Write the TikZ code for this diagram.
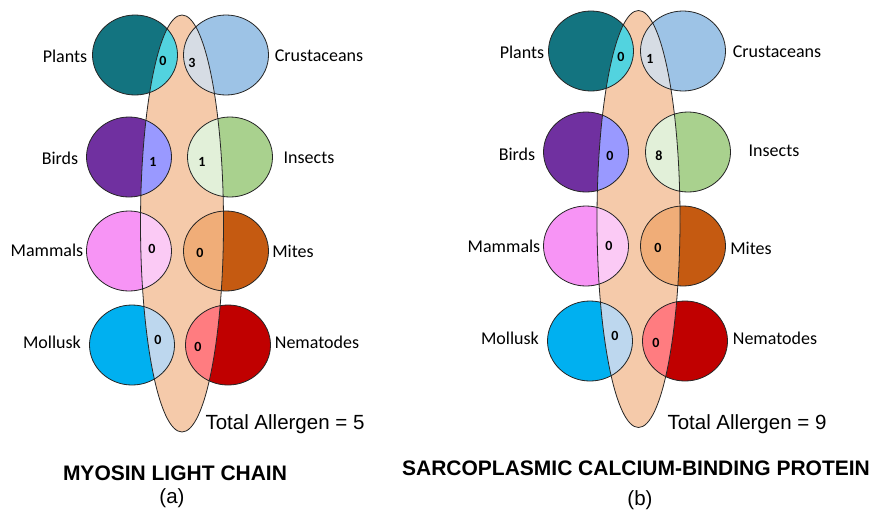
\documentclass[tikz,border=0pt]{standalone}
\usepackage{fontspec}
\setmainfont{Carlito}
\newfontfamily\arialf{Liberation Sans}
\definecolor{plantD}{HTML}{137480}\definecolor{plantL}{HTML}{52D3DF}
\definecolor{crusD}{HTML}{9DC3E6}\definecolor{crusL}{HTML}{D6DCE4}
\definecolor{birdD}{HTML}{7030A0}\definecolor{birdL}{HTML}{9999FF}
\definecolor{insD}{HTML}{A9D18E}\definecolor{insL}{HTML}{E2F0D9}
\definecolor{mamD}{HTML}{F794F5}\definecolor{mamL}{HTML}{FBCAF5}
\definecolor{mitD}{HTML}{C55A11}\definecolor{mitL}{HTML}{F0AD78}
\definecolor{molD}{HTML}{00B0F0}\definecolor{molL}{HTML}{BDD7EE}
\definecolor{nemD}{HTML}{C00000}\definecolor{nemL}{HTML}{FF7C80}
\definecolor{peach}{HTML}{F5CAAA}
\newcommand{\blob}[4]{% #1 center, #2 dark, #3 light, #4 lens center
  \fill[#2] (#1) ellipse[x radius=42.5pt, y radius=40pt];
  \begin{scope}
    \clip (#4) ellipse[x radius=41.5pt, y radius=208.5pt];
    \fill[#3] (#1) ellipse[x radius=42.5pt, y radius=40pt];
  \end{scope}
  \draw[outl] (#1) ellipse[x radius=42.5pt, y radius=40pt];
}
\begin{document}
\begin{tikzpicture}[x=1pt,y=-1pt,
  outl/.style={black!85, line width=0.8pt},
  lbl/.style={font=\fontsize{18}{21}\selectfont, inner sep=0pt},
  num/.style={font=\bfseries\fontsize{14}{16}\selectfont, inner sep=0pt},
  tot/.style={font=\arialf\fontsize{20.5}{24}\selectfont, inner sep=0pt},
  ttl/.style={font=\arialf\bfseries\fontsize{21}{25}\selectfont, inner sep=0pt},
  sub/.style={font=\arialf\fontsize{20.5}{24}\selectfont, inner sep=0pt}]
\useasboundingbox (0,0) rectangle (883,512);
\fill[white] (0,0) rectangle (883,512);
% ---------- panel (a) ----------
\coordinate (lensA) at (182,223.5);
\fill[peach] (lensA) ellipse[x radius=41.5pt, y radius=208.5pt];
\blob{135,55}{plantD}{plantL}{lensA}
\blob{226,55}{crusD}{crusL}{lensA}
\blob{129,157}{birdD}{birdL}{lensA}
\blob{230,157}{insD}{insL}{lensA}
\blob{129,251}{mamD}{mamL}{lensA}
\blob{226,251}{mitD}{mitL}{lensA}
\blob{132,345}{molD}{molL}{lensA}
\blob{228,345}{nemD}{nemL}{lensA}
\draw[outl] (lensA) ellipse[x radius=41.5pt, y radius=208.5pt];
\node[lbl] (aPl) at (65,56) {Plants};
\node[lbl] (aCr) at (319,56) {Crustaceans};
\node[lbl] (aBi) at (60,158) {Birds};
\node[lbl] (aIn) at (309,158) {Insects};
\node[lbl] (aMa) at (47,250) {Mammals};
\node[lbl] (aMi) at (293,251) {Mites};
\node[lbl] (aMo) at (52,342) {Mollusk};
\node[lbl] (aNe) at (317,342) {Nematodes};
\node[num] (naPl) at (163,61) {0};
\node[num] (naCr) at (192,63) {3};
\node[num] (naBi) at (153,162) {1};
\node[num] (naIn) at (202,162) {1};
\node[num] (naMa) at (152,249) {0};
\node[num] (naMi) at (200,253) {0};
\node[num] (naMo) at (158,340) {0};
\node[num] (naNe) at (198,347) {0};
\node[tot] (totA) at (285,424) {Total Allergen = 5};
\node[ttl] (ttlA) at (175,473) {MYOSIN LIGHT CHAIN};
\node[sub] (subA) at (172,498) {(a)};
% ---------- panel (b) ----------
\coordinate (lensB) at (638.5,219);
\fill[peach] (lensB) ellipse[x radius=41.5pt, y radius=208.5pt];
\blob{591,51}{plantD}{plantL}{lensB}
\blob{683,51}{crusD}{crusL}{lensB}
\blob{586,152}{birdD}{birdL}{lensB}
\blob{688,152}{insD}{insL}{lensB}
\blob{586,246}{mamD}{mamL}{lensB}
\blob{683,246}{mitD}{mitL}{lensB}
\blob{590,341}{molD}{molL}{lensB}
\blob{685,341}{nemD}{nemL}{lensB}
\draw[outl] (lensB) ellipse[x radius=41.5pt, y radius=208.5pt];
\node[lbl] (bPl) at (522,52) {Plants};
\node[lbl] (bCr) at (777,52) {Crustaceans};
\node[lbl] (bBi) at (517,154) {Birds};
\node[lbl] (bIn) at (774,151) {Insects};
\node[lbl] (bMa) at (504,246) {Mammals};
\node[lbl] (bMi) at (751,248) {Mites};
\node[lbl] (bMo) at (510,338) {Mollusk};
\node[lbl] (bNe) at (775,338) {Nematodes};
\node[num] (nbPl) at (621,57) {0};
\node[num] (nbCr) at (650,59) {1};
\node[num] (nbBi) at (610,156) {0};
\node[num] (nbIn) at (659,156) {8};
\node[num] (nbMa) at (609,246) {0};
\node[num] (nbMi) at (658,248) {0};
\node[num] (nbMo) at (615,336) {0};
\node[num] (nbNe) at (656,343) {0};
\node[tot] (totB) at (747,424) {Total Allergen = 9};
\node[ttl] (ttlB) at (636,468) {SARCOPLASMIC CALCIUM-BINDING PROTEIN};
\node[sub] (subB) at (640,500) {(b)};
\end{tikzpicture}
\end{document}
